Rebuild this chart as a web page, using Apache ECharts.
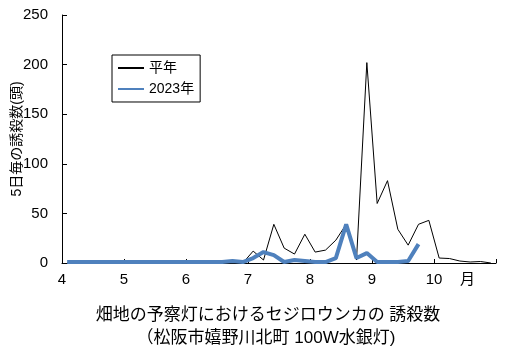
<!DOCTYPE html>
<html>
<head>
<meta charset="utf-8">
<script src="https://cdn.jsdelivr.net/npm/echarts@6/dist/echarts.min.js"></script>
<style>
  html, body { margin: 0; padding: 0; background: #fff; }
  #chart { width: 509px; height: 362px; }
</style>
</head>
<body>
<div id="chart"></div>
<script>
// 半旬 (5日) ごと、4月第1半旬〜10月第6半旬
const months = [4, 5, 6, 7, 8, 9, 10]
const normalYear = [
  0, 0, 0, 0, 0, 0,
  0, 0, 0, 0, 0, 0,
  0, 0, 0, 0, 0, 0,
  12, 3, 39, 15, 9, 29,
  11, 13, 23, 39, 3, 202,
  60, 83, 34, 18, 39, 43,
  5, 4.5, 2, 1, 1.5, 0
]
const year2023 = [
  1, 1, 1, 1, 1, 1,
  1, 1, 1, 1, 1, 1,
  1, 1, 1, 1, 2, 1,
  5, 11, 8, 1, 3, 2,
  1, 1, 5, 39, 5, 10,
  1, 1, 1, 2, 19
]
const yTicks = [0, 50, 100, 150, 200, 250]

// x position: middle of each 半旬 within its month
const xs = []
months.forEach(m => {
  for (let k = 0; k < 6; k++) xs.push(m + (k + 0.5) / 6)
})
const toPairs = vals => vals.map((v, i) => [xs[i], v])

const font = "'Liberation Sans', 'Noto Sans CJK JP', sans-serif"

const chart = echarts.init(document.getElementById('chart'))
chart.setOption({
  backgroundColor: '#fff',
  animation: false,
  textStyle: { fontFamily: font, color: '#000' },
  grid: {
    left: 62, right: 13, top: 15, bottom: 99,
    containLabel: false,
    outerBoundsMode: 'none'
  },
  legend: {
    left: 112,
    top: 55,
    orient: 'vertical',
    padding: [6, 6, 6, 5],
    itemWidth: 26,
    itemHeight: 14,
    itemGap: 7,
    borderColor: '#000',
    borderWidth: 1,
    itemStyle: { opacity: 0 },
    textStyle: { fontSize: 14, color: '#000', fontFamily: font },
    data: ['平年', '2023年']
  },
  xAxis: {
    type: 'value',
    min: 4,
    max: 11,
    interval: 1,
    axisLine: { lineStyle: { color: '#000', width: 1 } },
    axisTick: { inside: true, length: 4, lineStyle: { color: '#000' } },
    axisLabel: {
      fontSize: 15,
      color: '#000',
      margin: 9,
      formatter: v => (v <= 10 ? String(v) : '')
    },
    splitLine: { show: false }
  },
  yAxis: {
    type: 'value',
    min: yTicks[0],
    max: yTicks[yTicks.length - 1],
    interval: 50,
    name: '5日毎の誘殺数(頭)',
    nameLocation: 'middle',
    nameGap: 38,
    nameMoveOverlap: false,
    nameTextStyle: { fontSize: 14, color: '#000' },
    axisLine: { show: true, lineStyle: { color: '#000', width: 1 } },
    axisTick: { show: true, inside: true, length: 5, lineStyle: { color: '#000' } },
    axisLabel: { fontSize: 15, color: '#000', margin: 14 },
    splitLine: { show: false }
  },
  graphic: [{
    type: 'text',
    left: 460,
    top: 272,
    style: { text: '月', fontSize: 15, fill: '#000', fontFamily: font }
  }, {
    type: 'text',
    x: 268,
    y: 307,
    style: {
      text: '畑地の予察灯におけるセジロウンカの 誘殺数',
      align: 'center',
      fontSize: 17, fill: '#000', fontFamily: font
    }
  }, {
    type: 'text',
    x: 266,
    y: 330,
    style: {
      text: '（松阪市嬉野川北町 100W水銀灯)',
      align: 'center',
      fontSize: 17, fill: '#000', fontFamily: font
    }
  }],
  series: [{
    name: '平年',
    type: 'line',
    symbol: 'none',
    lineStyle: { color: '#000', width: 1 },
    itemStyle: { color: '#000' },
    data: toPairs(normalYear)
  }, {
    name: '2023年',
    type: 'line',
    symbol: 'none',
    lineStyle: { color: '#4f81bd', width: 4 },
    itemStyle: { color: '#4f81bd' },
    data: toPairs(year2023)
  }]
})
</script>
</body>
</html>
